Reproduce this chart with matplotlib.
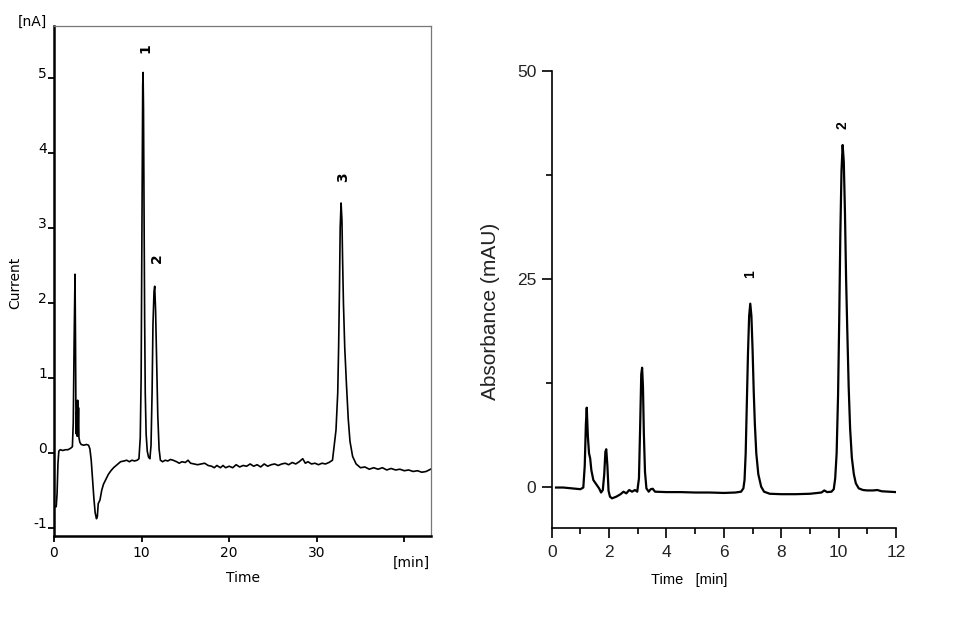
import matplotlib
matplotlib.use('Agg')
import matplotlib.pyplot as plt

# left: electrochemical trace (min, nA)
ec_time = [0.0, 0.25, 0.35, 0.45, 0.55, 0.7, 1.0, 1.3, 1.6, 1.9, 2.1, 2.2, 2.3, 2.4,
           2.45, 2.5, 2.55, 2.6, 2.65, 2.7, 2.75, 2.8, 2.85, 2.95, 3.1, 3.4, 3.7, 3.95,
           4.1, 4.25, 4.4, 4.55, 4.7, 4.85, 4.95, 5.05, 5.25, 5.45, 5.65, 5.9, 6.2, 6.5,
           6.8, 7.2, 7.6, 8.0, 8.3, 8.6, 8.9, 9.2, 9.5, 9.7, 9.85, 9.95, 10.02, 10.08,
           10.13, 10.17, 10.22, 10.28, 10.35, 10.42, 10.52, 10.65, 10.8, 10.95, 11.08,
           11.2, 11.3, 11.42, 11.5, 11.6, 11.72, 11.85, 12.0, 12.15, 12.4, 12.7, 13.0,
           13.3, 13.6, 14.0, 14.3, 14.6, 15.0, 15.3, 15.6, 16.0, 16.4, 16.8, 17.2, 17.6,
           18.0, 18.3, 18.6, 19.0, 19.3, 19.6, 20.0, 20.4, 20.8, 21.2, 21.6, 22.0, 22.4,
           22.8, 23.2, 23.6, 24.0, 24.4, 24.8, 25.2, 25.6, 26.0, 26.4, 26.8, 27.2, 27.6,
           28.0, 28.4, 28.7, 29.0, 29.4, 29.8, 30.2, 30.6, 31.0, 31.4, 31.8, 32.0, 32.2,
           32.4, 32.5, 32.6, 32.68, 32.78, 32.88, 32.95, 33.05, 33.2, 33.4, 33.6, 33.8,
           34.1, 34.5, 35.0, 35.5, 36.0, 36.5, 37.0, 37.5, 38.0, 38.5, 39.0, 39.5, 40.0,
           40.5, 41.0, 41.5, 42.0, 42.5, 43.0]
ec_current = [-0.72, -0.72, -0.55, -0.15, 0.02, 0.04, 0.03, 0.04, 0.04, 0.06, 0.08, 0.4,
              1.5, 2.38, 1.6, 0.6, 0.25, 0.55, 0.22, 0.7, 0.3, 0.6, 0.2, 0.14, 0.11, 0.1,
              0.11, 0.1, 0.05, -0.1, -0.35, -0.6, -0.8, -0.88, -0.85, -0.68, -0.63, -0.5,
              -0.42, -0.36, -0.29, -0.24, -0.2, -0.16, -0.12, -0.11, -0.1, -0.12, -0.1,
              -0.11, -0.1, -0.08, 0.2, 1.0, 2.5, 3.9, 4.9, 5.07, 4.6, 3.2, 1.8, 0.8, 0.25,
              0.02, -0.06, -0.08, 0.1, 0.8, 1.7, 2.15, 2.22, 1.9, 1.2, 0.5, 0.05, -0.1,
              -0.12, -0.1, -0.11, -0.09, -0.1, -0.12, -0.14, -0.12, -0.13, -0.1, -0.14,
              -0.15, -0.16, -0.15, -0.14, -0.17, -0.18, -0.2, -0.17, -0.2, -0.17, -0.2,
              -0.18, -0.2, -0.16, -0.19, -0.17, -0.18, -0.15, -0.18, -0.16, -0.19, -0.15,
              -0.18, -0.16, -0.15, -0.17, -0.15, -0.14, -0.16, -0.13, -0.15, -0.12, -0.08,
              -0.14, -0.12, -0.15, -0.14, -0.16, -0.14, -0.15, -0.13, -0.1, 0.1, 0.3, 0.8,
              1.4, 2.2, 3.0, 3.33, 3.1, 2.6, 2.0, 1.4, 0.9, 0.45, 0.15, -0.05, -0.15, -0.2,
              -0.19, -0.22, -0.2, -0.22, -0.2, -0.23, -0.21, -0.23, -0.22, -0.24, -0.23,
              -0.25, -0.24, -0.26, -0.25, -0.22]
ec_peak_labels = ['1', '2', '3']
ec_peak_x = [10.48, 11.8, 33.0]
ec_peak_y = [5.4, 2.59, 3.68]
ec_xticks = [0, 10, 20, 30, 40]
ec_xticklabels = ['0', '10', '20', '30', '']   # 40 tick drawn without label
ec_yticks = [-1, 0, 1, 2, 3, 4, 5]

# right: UV trace (min, mAU)
uv_time = [0.15, 0.4, 0.7, 1.0, 1.1, 1.15, 1.19, 1.22, 1.26, 1.3, 1.34, 1.38, 1.45, 1.55,
           1.65, 1.72, 1.78, 1.83, 1.87, 1.9, 1.94, 1.98, 2.03, 2.1, 2.25, 2.4, 2.5, 2.6,
           2.7, 2.8, 2.9, 2.98, 3.04, 3.08, 3.12, 3.15, 3.18, 3.21, 3.25, 3.3, 3.38, 3.45,
           3.52, 3.6, 4.0, 4.5, 5.0, 5.5, 6.0, 6.4, 6.6, 6.68, 6.72, 6.76, 6.8, 6.84, 6.88,
           6.92, 6.96, 7.0, 7.04, 7.08, 7.13, 7.2, 7.3, 7.4, 7.6, 8.0, 8.5, 9.0, 9.4, 9.5,
           9.6, 9.75, 9.83, 9.88, 9.93, 9.98, 10.02, 10.06, 10.1, 10.14, 10.18, 10.22,
           10.26, 10.3, 10.35, 10.4, 10.46, 10.53, 10.6, 10.7, 10.85, 11.0, 11.2, 11.35,
           11.5, 11.75, 12.0]
uv_abs = [-0.1, -0.1, -0.2, -0.3, -0.1, 2.5, 7.5, 9.5, 6.0, 4.0, 3.4, 2.0, 0.8, 0.3, -0.2,
          -0.7, -0.4, 1.5, 4.2, 4.5, 2.5, -0.5, -1.2, -1.4, -1.2, -0.9, -0.6, -0.8, -0.4,
          -0.6, -0.4, -0.6, 1.0, 7.0, 13.5, 14.3, 12.0, 6.5, 1.8, -0.2, -0.6, -0.3, -0.25,
          -0.6, -0.65, -0.65, -0.7, -0.7, -0.75, -0.7, -0.6, -0.2, 0.8, 4.0, 10.0, 16.0,
          20.5, 22.0, 20.5, 16.5, 11.5, 7.5, 4.0, 1.5, 0.0, -0.6, -0.85, -0.9, -0.9, -0.85,
          -0.7, -0.45, -0.65, -0.6, -0.3, 1.0, 4.0, 11.0, 20.0, 30.5, 38.0, 41.07, 39.0,
          33.0, 25.0, 19.0, 12.0, 7.0, 3.5, 1.5, 0.4, -0.2, -0.4, -0.45, -0.45, -0.4,
          -0.55, -0.6, -0.65]
uv_peak_labels = ['1', '2']
uv_peak_x = [6.93, 10.12]
uv_peak_y = [25.5, 43.5]
uv_xticks = [0, 2, 4, 6, 8, 10, 12]
uv_yticks = [0, 25, 50]

fig = plt.figure(figsize=(9.8, 6.29), dpi=100)

# ---- left panel ----
ax1 = fig.add_axes([0.0551, 0.1479, 0.3847, 0.8108])
ax1.plot(ec_time, ec_current, color='black', lw=1.2)
ax1.set_xlim(0, 43.05)
ax1.set_ylim(-1.11, 5.69)
ax1.set_xticks(ec_xticks)
ax1.set_yticks(ec_yticks)
ax1.set_xticklabels(ec_xticklabels)
ax1.set_yticklabels([str(v) for v in ec_yticks])
ax1.tick_params(axis='both', direction='out', length=4, width=1.3, labelsize=10,
                colors='black')
ax1.tick_params(axis='y', pad=1)
ax1.tick_params(axis='x', pad=3)
for lbl in ax1.get_yticklabels():
    lbl.set_verticalalignment('baseline')
for side in ['left', 'bottom']:
    ax1.spines[side].set_linewidth(1.8)
for side in ['top', 'right']:
    ax1.spines[side].set_linewidth(0.9)
    ax1.spines[side].set_color('#777777')
for lab, x, y in zip(ec_peak_labels, ec_peak_x, ec_peak_y):
    ax1.text(x, y, lab, rotation=90, ha='center', va='center',
             fontsize=10, fontweight='bold')

fig.text(32.5 / 980, 1 - 21.5 / 629, '[nA]', ha='center', va='center', fontsize=10)
fig.text(15 / 980, 1 - 283 / 629, 'Current', rotation=90, ha='center', va='center',
         fontsize=10)
fig.text(243 / 980, 1 - 578 / 629, 'Time', ha='center', va='center', fontsize=10)
fig.text(411.5 / 980, 1 - 562.5 / 629, '[min]', ha='center', va='center', fontsize=10)

# ---- right panel ----
ax2 = fig.add_axes([0.5630, 0.1601, 0.3513, 0.7275])
ax2.plot(uv_time, uv_abs, color='black', lw=1.6)
ax2.set_xlim(0, 12)
ax2.set_ylim(-5, 50)
ax2.set_xticks(uv_xticks)
ax2.set_xticks([1, 3, 5, 7, 9, 11], minor=True)
ax2.set_yticks(uv_yticks)
ax2.set_yticks([12.5, 37.5], minor=True)
ax2.spines['top'].set_visible(False)
ax2.spines['right'].set_visible(False)
for side in ['left', 'bottom']:
    ax2.spines[side].set_linewidth(1.2)
ax2.tick_params(axis='both', which='major', direction='out', length=7, width=1.2,
                labelsize=12.5, labelcolor='#222222')
ax2.tick_params(axis='both', which='minor', direction='out', length=4, width=1.2)
ax2.tick_params(axis='x', pad=5)
ax2.tick_params(axis='y', pad=4)
for lbl in ax2.get_xticklabels() + ax2.get_yticklabels():
    lbl.set_family('Liberation Sans')
for lab, x, y in zip(uv_peak_labels, uv_peak_x, uv_peak_y):
    ax2.text(x, y, lab, rotation=90, ha='center', va='center', fontsize=10,
             fontweight='bold', family='Liberation Sans')

fig.text(490 / 980, 1 - 311 / 629, 'Absorbance (mAU)', rotation=90, ha='center',
         va='center', fontsize=15, family='Liberation Sans', color='#222222')
fig.text(689 / 980, 1 - 580 / 629, 'Time   [min]', ha='center', va='center',
         fontsize=10.5, family='Liberation Sans')

fig.savefig('out.png', dpi=100)
